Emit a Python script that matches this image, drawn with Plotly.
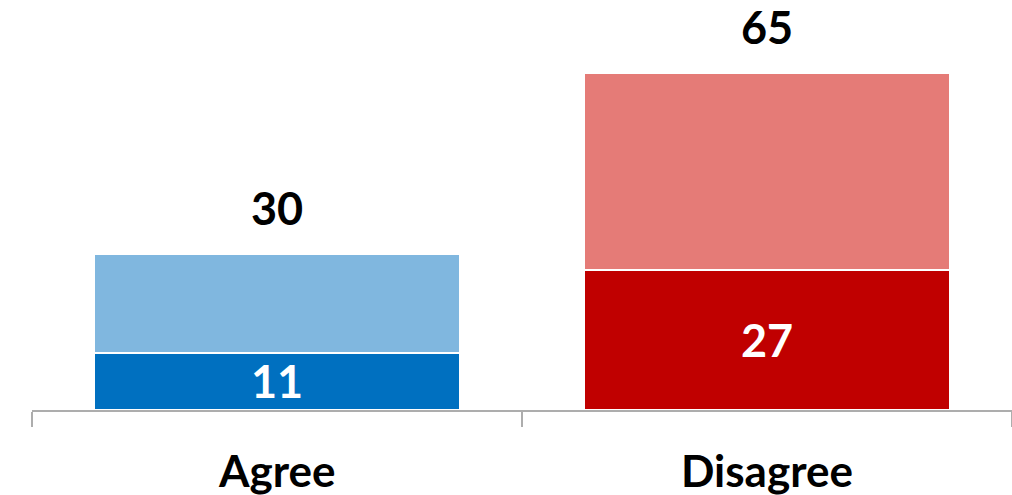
import plotly.graph_objects as go

# Survey responses
categories = ["Agree", "Disagree"]
strong = [11, 27]          # strongly agree / strongly disagree
totals = [30, 65]          # total agree / total disagree
other = [t - s for t, s in zip(totals, strong)]

strong_colors = ["#0070C0", "#C00000"]
light_colors = ["#80B7DF", "#E57B77"]

x = list(range(len(categories)))
FONT = "Lato"

fig = go.Figure()
fig.add_trace(go.Bar(
    x=x, y=strong, width=0.748,
    marker=dict(color=strong_colors, line=dict(color="white", width=2)),
    text=[str(v) for v in strong], textposition="inside",
    insidetextanchor="middle", textangle=0, constraintext="none",
    cliponaxis=False,
    textfont=dict(family=FONT, size=45, color="white", weight="bold"),
    hoverinfo="skip",
))
fig.add_trace(go.Bar(
    x=x, y=other, width=0.748,
    marker=dict(color=light_colors, line=dict(color="white", width=2)),
    hoverinfo="skip",
))

# Totals above each stacked bar
for xi, t in zip(x, totals):
    fig.add_annotation(x=xi, y=t, text=f"<b>{t}</b>", showarrow=False,
                       yanchor="bottom", yshift=17,
                       font=dict(family=FONT, size=45, color="black"))

# Category labels under the axis
for xi, c in zip(x, categories):
    fig.add_annotation(x=xi, y=0, yref="paper", text=f"<b>{c}</b>",
                       showarrow=False, yanchor="middle", yshift=-60,
                       font=dict(family=FONT, size=44, color="black"))

fig.update_layout(
    barmode="stack",
    width=1012, height=495,
    margin=dict(l=32, r=0, t=0, b=85),
    plot_bgcolor="white", paper_bgcolor="white",
    showlegend=False,
    xaxis=dict(range=[-0.5, 1.5], tickvals=[-0.5, 0.5, 1.5],
               showticklabels=False, ticks="outside", ticklen=15,
               tickwidth=1.5, tickcolor="#ADADAD",
               showline=True, linecolor="#ADADAD", linewidth=2,
               showgrid=False, zeroline=False),
    yaxis=dict(range=[0, 79], visible=False, showgrid=False),
)

fig.write_html("out.html")
